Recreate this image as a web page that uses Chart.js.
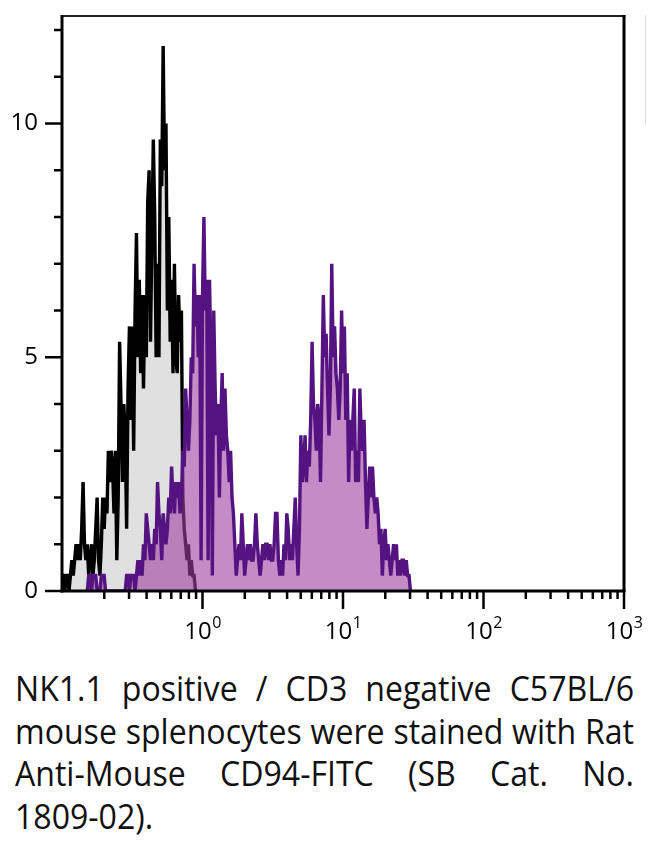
<!DOCTYPE html>
<html>
<head>
<meta charset="utf-8">
<script src="https://cdn.jsdelivr.net/npm/chart.js@4.4.0/dist/chart.umd.min.js"></script>
<style>
  html, body { margin: 0; padding: 0; background: #fff; }
  #wrap { position: relative; width: 662px; height: 841px; overflow: hidden; }
  #chart { position: absolute; left: 0; top: 0; }
  #caption {
    position: absolute; left: 15px; top: 667px;
    font-family: "Open Sans"; font-size: 35px; line-height: 42.5px;
    color: #111; transform-origin: 0 0;
  }
  #caption .j { text-align: justify; text-align-last: justify; }
</style>
</head>
<body>
<div id="wrap">
  <canvas id="chart" width="662" height="650"></canvas>
  <div id="caption"></div>
</div>
<script>
// histogram channels: 100 channels per decade, channel 0 = 10^-1, channel 400 = 10^3
const channelMin = 0;
const channelMax = 400;

// control (grey fill, black outline)
const controlStart = 0;
const controlCounts = [
  0.33, 0.33, 0, 0.33, 0.33, 0, 0.33, 0.66, 0.33, 0.66,
  1.0, 0.66, 1.0, 0.66, 1.33, 2.33, 1.0, 0.66, 1.0, 0.33,
  0.66, 1.0, 0.33, 0.66, 1.33, 2.0, 0.66, 0.33, 1.0, 2.0,
  1.33, 2.0, 1.66, 3.0, 2.33, 3.0, 2.66, 1.66, 3.0, 0.66,
  2.0, 5.33, 4.0, 2.33, 4.0, 3.33, 1.33, 4.33, 5.66, 3.66,
  5.66, 3.0, 6.0, 7.66, 5.0, 6.66, 4.66, 6.33, 4.33, 6.33,
  5.0, 8.33, 9.0, 5.33, 7.66, 9.66, 8.0, 5.0, 7.0, 5.0,
  9.66, 8.66, 11.66, 9.0, 10.0, 6.0, 8.0, 5.33, 6.66, 4.66,
  7.0, 5.0, 4.66, 6.33, 5.33, 6.0, 2.0, 1.33, 1.0, 0.66,
  1.0, 0.33, 0.66, 0.33, 0.33, 0, 0];

// CD94-FITC stained (purple)
const stainedStart = 18;
const stainedCounts = [
  0, 0.33, 0.33, 0, 0.33, 0.33, 0.33, 0, 0, 0,
  0.33, 0.33, 0.33, 0, 0, 0, 0, 0, 0, 0,
  0, 0, 0, 0, 0, 0, 0, 0, 0.33, 0.33,
  0, 0.33, 0.33, 0.33, 0, 0.33, 0.66, 0.33, 0.66, 0.33,
  1.0, 0.66, 1.66, 1.33, 1.0, 0.66, 1.0, 0.66, 1.33, 1.0,
  2.33, 1.66, 1.33, 0.66, 1.66, 1.33, 1.0, 1.33, 2.0, 1.66,
  2.66, 2.0, 1.66, 2.33, 2.0, 2.33, 1.66, 2.0, 3.0, 2.66,
  4.33, 3.66, 3.0, 3.66, 5.0, 4.66, 7.0, 5.66, 6.33, 5.0,
  6.33, 0.66, 6.33, 8.0, 6.0, 6.66, 0.66, 6.66, 5.0, 0.33,
  6.0, 4.33, 3.33, 4.0, 2.0, 3.66, 4.66, 3.0, 4.33, 3.33,
  3.0, 2.33, 3.0, 2.0, 1.66, 1.0, 0.33, 0.66, 1.0, 0.66,
  1.66, 1.0, 0.33, 0.66, 1.0, 0.66, 1.0, 0.66, 0.66, 1.0,
  1.66, 1.0, 0.66, 0.33, 0.66, 1.0, 0.66, 1.0, 1.0, 0.66,
  1.0, 0.66, 0.66, 1.0, 1.66, 1.66, 0.66, 0.33, 0.66, 0.33,
  1.0, 0.66, 1.66, 1.33, 0.66, 1.0, 0.66, 1.33, 2.0, 1.0,
  0.33, 1.33, 3.33, 2.33, 2.66, 3.33, 2.33, 3.0, 2.66, 3.66,
  5.33, 4.0, 3.66, 3.0, 4.0, 3.66, 2.33, 4.33, 6.33, 5.0,
  5.5, 4.33, 3.33, 4.33, 7.0, 5.0, 5.66, 4.66, 4.33, 3.66,
  4.33, 6.0, 4.66, 5.66, 3.66, 4.66, 2.33, 3.66, 3.0, 3.66,
  4.33, 2.33, 3.0, 2.33, 4.33, 3.33, 3.0, 3.66, 2.33, 1.33,
  2.0, 2.66, 2.0, 2.66, 2.0, 1.66, 2.0, 1.66, 1.0, 1.33,
  0.33, 1.0, 1.33, 0.66, 1.0, 0.66, 0.33, 0.66, 1.0, 0.66,
  1.0, 0.33, 0.66, 0.33, 0.66, 0.66, 0.33, 0.66, 0.33, 0.33,
  0];

// axes
const xMin = 0.1;
const xMax = 1000;
const xLabelExponents = [0, 1, 2, 3];
const yMax = 12.3;
const yTickValues = [0, 1, 2, 3, 4, 5, 6, 7, 8, 9, 10, 11, 12];
const yLabelValues = [0, 5, 10];

const captionLines = [
  "NK1.1 positive / CD3 negative C57BL/6",
  "mouse splenocytes were stained with Rat",
  "Anti-Mouse CD94-FITC (SB Cat. No.",
  "1809-02)."
];

function toPoints(start, counts) {
  return counts.map((v, i) => ({ x: start + i, y: v }));
}

// frame, tick marks and the 10^n labels
const axisPlugin = {
  id: 'axisFrame',
  afterDatasetsDraw(chart) {
    const ctx = chart.ctx;
    const a = chart.chartArea;
    const ys = chart.scales.y;
    const xs = chart.scales.xlog;

    function seg(x1, y1, x2, y2) {
      ctx.beginPath();
      ctx.moveTo(x1, y1);
      ctx.lineTo(x2, y2);
      ctx.stroke();
    }

    ctx.save();
    ctx.lineCap = 'butt';

    // top border is thinner
    ctx.strokeStyle = '#222';
    ctx.lineWidth = 2;
    seg(a.left, a.top, a.right + 1.5, a.top);

    ctx.strokeStyle = '#000';
    ctx.lineWidth = 3;
    seg(a.left, a.top - 1, a.left, a.bottom + 1.5);
    seg(a.left - 1.5, a.bottom, a.right + 1.5, a.bottom);
    seg(a.right, a.top - 1, a.right, a.bottom);

    // y ticks
    ctx.lineWidth = 2.5;
    yTickValues.forEach(v => {
      const y = ys.getPixelForValue(v);
      const len = yLabelValues.includes(v) ? 17 : 8;
      seg(a.left - len, y, a.left, y);
    });

    // x ticks, log decades
    for (let e = -1; e < 3; e++) {
      for (let m = 1; m < 10; m++) {
        const v = m * Math.pow(10, e);
        if (v <= xMin) continue;
        const x = xs.getPixelForValue(v);
        const len = m === 1 ? 18 : 8;
        seg(x, a.bottom, x, a.bottom + len);
      }
    }
    const xr = xs.getPixelForValue(xMax);
    seg(xr, a.bottom, xr, a.bottom + 18);

    // labels 10^n
    ctx.fillStyle = '#000';
    ctx.textBaseline = 'alphabetic';
    ctx.textAlign = 'left';
    xLabelExponents.forEach(e => {
      const x = xs.getPixelForValue(Math.pow(10, e));
      ctx.font = '24px "Open Sans"';
      const w1 = ctx.measureText('10').width;
      ctx.font = '16px "Open Sans"';
      const w2 = ctx.measureText(String(e)).width;
      const start = x - (w1 + w2) / 2;
      ctx.font = '24px "Open Sans"';
      ctx.fillText('10', start, 639);
      ctx.font = '16px "Open Sans"';
      ctx.fillText(String(e), start + w1 + 0.5, 628);
    });

    // faint line at the right edge of the scan
    ctx.strokeStyle = '#ddd';
    ctx.lineWidth = 1;
    seg(645.5, 15, 645.5, 125);

    ctx.restore();
  }
};

const chart = new Chart(document.getElementById('chart'), {
  type: 'line',
  data: {
    datasets: [
      {
        label: 'CD94-FITC',
        data: toPoints(stainedStart, stainedCounts),
        borderColor: '#541380',
        backgroundColor: 'rgba(160, 60, 160, 0.6)',
        borderWidth: 3.4,
        fill: 'origin',
        pointRadius: 0,
        order: 0
      },
      {
        label: 'Control',
        data: toPoints(controlStart, controlCounts),
        borderColor: '#000',
        backgroundColor: '#e0e0e0',
        borderWidth: 3.4,
        fill: 'origin',
        pointRadius: 0,
        order: 1
      }
    ]
  },
  options: {
    responsive: false,
    animation: false,
    devicePixelRatio: 1,
    layout: { padding: { top: 16, right: 38, left: 0, bottom: 0 } },
    plugins: { legend: { display: false }, tooltip: { enabled: false } },
    scales: {
      x: { type: 'linear', min: channelMin, max: channelMax, display: false },
      xlog: {
        type: 'logarithmic', position: 'bottom', min: xMin, max: xMax,
        grid: { display: false }, border: { display: false },
        ticks: { display: false },
        afterFit(s) {
          s.height = 59;
          s.paddingLeft = 0; s.paddingRight = 0;
        }
      },
      y: {
        min: 0, max: yMax,
        grid: { display: false, drawTicks: false },
        border: { display: false },
        ticks: {
          stepSize: 1, padding: 24, color: '#000',
          font: { family: 'Open Sans', size: 24 },
          callback: v => yLabelValues.includes(v) ? String(v) : ''
        },
        afterFit(s) {
          s.width = 62;
          s.paddingTop = 0; s.paddingBottom = 0;
        }
      }
    }
  },
  plugins: [axisPlugin]
});

// caption: justified lines, squeezed to the width of the block
const cap = document.getElementById('caption');
captionLines.forEach((t, i) => {
  const d = document.createElement('div');
  d.textContent = t;
  if (i < captionLines.length - 1) d.className = 'j';
  cap.appendChild(d);
});
const mctx = document.createElement('canvas').getContext('2d');
mctx.font = '35px "Open Sans"';
let widest = 0;
captionLines.forEach(t => { widest = Math.max(widest, mctx.measureText(t).width); });
widest = Math.ceil(widest) + 2;
cap.style.width = widest + 'px';
cap.style.transform = 'scaleX(' + (619 / widest) + ')';
</script>
</body>
</html>
